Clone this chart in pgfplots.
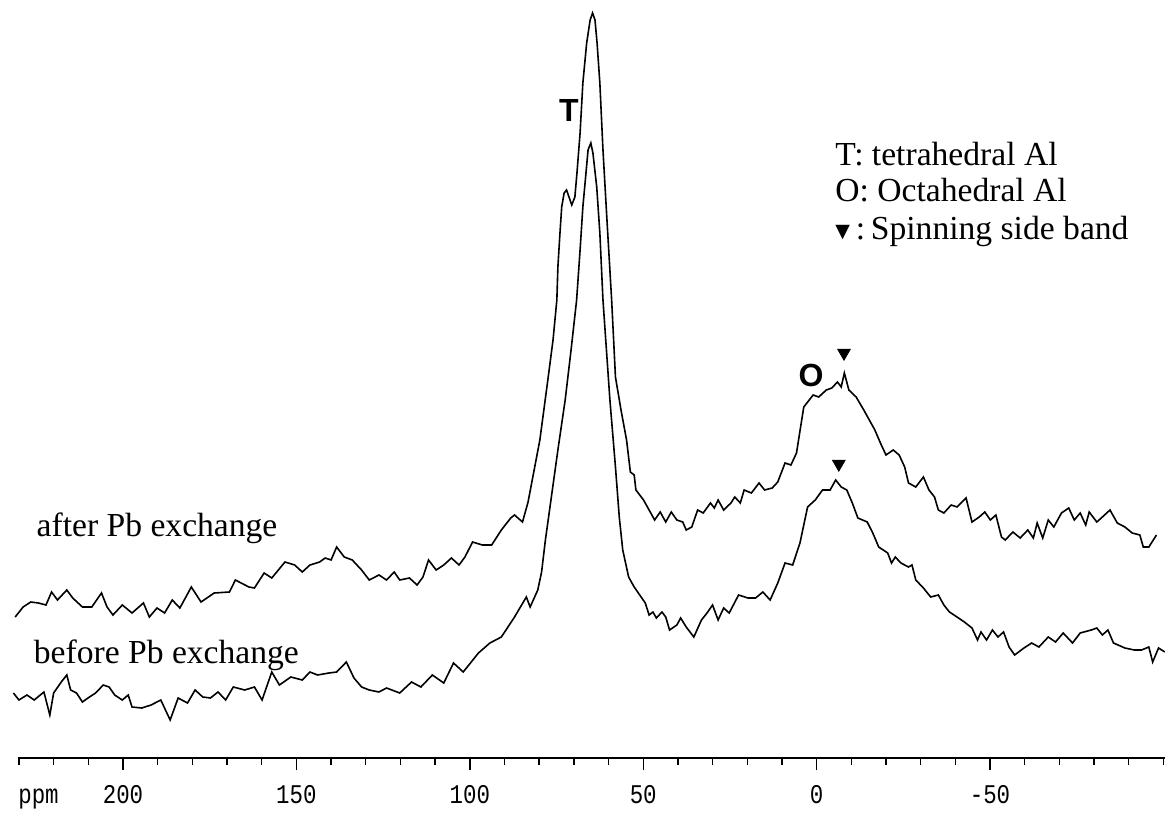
\documentclass[border=0pt]{standalone}
\usepackage{pgfplots}
\pgfplotsset{compat=1.18}
\usepackage{fontspec}
\setmainfont{Liberation Serif}
\newfontfamily\tickfont[FakeStretch=0.83]{Liberation Mono}
\newfontfamily\labfont{Liberation Sans}
\newfontfamily\symfont{DejaVu Sans}
\begin{document}
\begin{tikzpicture}
\begin{axis}[
  scale only axis,
  width=573.5pt, height=379pt,
  x dir=reverse,
  xmin=-100.46, xmax=230.28,
  ymin=0, ymax=758,
  hide y axis,
  axis x line*=bottom,
  x axis line style={-, line width=1.1pt},
  tick align=outside,
  xtick={200,150,100,50,0,-50},
  minor xtick={230,220,210,190,180,170,160,140,130,120,110,90,80,70,60,40,30,20,10,-10,-20,-30,-40,-60,-70,-80,-90,-100},
  major tick length=6pt,
  minor tick length=3.5pt,
  every tick/.style={black, line width=0.7pt},
  xticklabel style={font=\tickfont\fontsize{13.5}{13.5}\selectfont, anchor=base, yshift=-16.5pt, inner sep=0pt},
  /pgf/number format/assume math mode=true,
  clip=false,
]
% after Pb exchange
\addplot[black, line width=0.8pt] coordinates {
(231.1,141) (228.8,151) (226.6,156) (224.4,155) (222.2,153) (220.6,166) (218.9,158) (216.2,168)
(214.5,160) (211.7,151) (209.0,151) (206.2,165) (204.6,151) (202.9,143) (200.2,153) (197.4,145)
(194.1,155) (192.4,141) (190.2,150) (188.0,145) (185.8,158) (183.6,150) (180.3,171) (177.5,156)
(173.7,165) (169.3,166) (167.6,178) (163.7,171) (162.1,170) (159.3,185) (157.1,180) (153.3,196)
(150.5,193) (148.3,186) (146.1,193) (143.3,196) (141.7,200) (140.0,198) (138.4,211) (136.2,201)
(133.9,198) (131.2,188) (129.0,178) (126.2,183) (124.0,178) (121.8,186) (120.2,178) (117.4,180)
(115.2,173) (113.5,181) (111.9,198) (109.7,188) (107.5,193) (105.3,200) (103.1,193) (101.4,201)
(99.2,216) (96.4,213) (93.7,213) (90.9,228) (88.2,240) (87.1,243) (84.8,236) (83.2,256)
(79.8,318) (77.5,378) (76.0,418) (74.9,458) (74.6,491) (74.0,525) (73.5,551) (72.8,565)
(72.1,568) (71.4,561) (70.6,553) (69.7,561) (69.1,585) (68.2,625) (67.4,675) (66.3,715)
(65.3,738) (64.6,745) (63.9,738) (63.3,715) (62.5,675) (61.6,608) (60.5,541) (59.1,458)
(58.0,381) (56.4,348) (54.8,318) (53.7,286) (52.6,283) (52.1,268) (49.9,258) (48.3,248)
(46.7,238) (45.1,246) (43.5,236) (41.9,246) (40.3,238) (38.6,236) (37.6,228) (36.0,231)
(34.3,248) (32.7,245) (30.6,255) (29.5,250) (28.4,258) (26.8,248) (24.7,255) (23.6,261)
(22.0,255) (20.9,268) (18.8,265) (16.6,275) (15.0,268) (12.8,270) (11.2,276) (9.1,295)
(7.4,293) (5.8,305) (3.7,351) (1.0,363) (-0.6,361) (-2.8,368) (-4.4,370) (-6.0,376)
(-7.1,371) (-8.0,385) (-9.3,368) (-11.4,361) (-13.6,348) (-15.2,338) (-16.8,328) (-18.4,315)
(-20.0,303) (-22.1,308) (-23.8,303) (-25.4,291) (-26.5,275) (-28.6,271) (-30.8,281) (-32.4,268)
(-34.0,261) (-35.1,248) (-36.7,245) (-38.8,253) (-40.5,251) (-43.1,260) (-44.8,236) (-46.9,241)
(-48.5,246) (-50.1,238) (-51.7,243) (-53.3,221) (-54.4,218) (-56.6,226) (-58.7,220) (-60.9,228)
(-62.5,220) (-63.6,235) (-65.2,220) (-66.8,238) (-68.4,231) (-70.6,245) (-72.7,250) (-74.3,238)
(-76.0,245) (-77.6,233) (-78.6,246) (-80.8,236) (-82.4,241) (-84.6,248) (-86.7,235) (-88.9,231)
(-91.0,225) (-93.2,223) (-94.2,211) (-95.8,211) (-98.0,223)
};
% before Pb exchange
\addplot[black, line width=0.8pt] coordinates {
(231.6,65) (230.0,58) (227.7,63) (225.6,58) (222.8,66) (221.1,43) (220.0,65) (217.8,76)
(216.2,83) (215.1,68) (213.4,65) (211.7,56) (210.1,60) (207.9,65) (205.7,73) (204.0,71)
(202.4,63) (200.2,58) (198.5,63) (197.4,51) (194.6,50) (191.9,53) (189.1,58) (186.4,38)
(184.1,60) (181.4,55) (179.2,68) (177.0,61) (174.8,60) (172.6,66) (170.4,58) (168.2,71)
(164.9,68) (162.1,71) (159.9,58) (157.1,86) (154.9,73) (151.6,81) (148.3,78) (146.1,86)
(143.9,83) (140.6,85) (138.4,86) (135.6,96) (133.4,80) (131.2,71) (129.0,68) (126.2,66)
(124.0,70) (120.2,65) (116.8,76) (114.1,71) (110.8,83) (107.5,75) (104.7,95) (101.9,86)
(97.5,105) (94.2,115) (90.9,121) (87.1,141) (83.7,161) (82.6,151) (80.4,168) (79.3,186)
(78.2,218) (76.6,258) (74.6,308) (72.5,358) (70.8,408) (69.2,458) (68.2,508) (67.4,551)
(66.5,585) (65.9,608) (65.1,615) (64.5,605) (63.4,571) (62.5,525) (61.6,458) (59.6,358)
(58.0,291) (56.9,241) (55.9,208) (54.2,181) (52.6,171) (51.0,163) (49.4,155) (48.3,143)
(47.2,146) (46.2,140) (44.6,146) (43.5,141) (42.4,128) (40.3,133) (39.2,140) (37.6,131)
(35.4,121) (33.2,138) (31.6,145) (30.0,153) (28.4,138) (26.8,150) (25.2,145) (22.5,163)
(19.8,160) (17.6,160) (15.5,166) (13.4,158) (11.2,175) (9.1,195) (6.9,193) (4.8,215)
(2.6,251) (0.4,258) (-1.7,268) (-3.9,268) (-5.5,278) (-7.1,271) (-8.7,268) (-10.3,255)
(-11.9,240) (-14.6,236) (-16.2,225) (-17.9,211) (-20.5,205) (-21.6,195) (-22.7,201) (-24.3,195)
(-26.5,191) (-27.5,193) (-28.6,178) (-30.8,170) (-32.9,161) (-35.1,163) (-36.7,153) (-38.3,146)
(-40.5,141) (-42.6,136) (-44.8,130) (-46.4,118) (-47.4,126) (-49.0,118) (-50.7,128) (-52.3,121)
(-53.9,126) (-55.5,111) (-57.1,103) (-59.8,110) (-62.0,115) (-64.1,111) (-66.8,121) (-68.9,116)
(-71.1,125) (-73.8,115) (-76.0,125) (-79.2,128) (-80.8,130) (-82.4,123) (-84.0,128) (-85.6,115)
(-88.9,110) (-91.6,108) (-93.7,108) (-95.8,111) (-96.9,96) (-98.6,110) (-100.4,106)
};
% spinning side band markers
\addplot[only marks, mark=triangle*, mark size=3.6pt, mark options={rotate=180, fill=black, draw=black}] coordinates {(-7.9,405) (-6.4,294)};

\node[font=\labfont\bfseries\fontsize{16}{16}\selectfont, inner sep=0pt] at (axis cs:71.4,648) {T};
\node[font=\labfont\bfseries\fontsize{16}{16}\selectfont, inner sep=0pt] at (axis cs:1.6,383) {O};

\node[anchor=base west, inner sep=0pt, font=\fontsize{16.8}{18.5}\selectfont] at (axis cs:225.0,221) {after Pb exchange};
\node[anchor=base west, inner sep=0pt, font=\fontsize{16.8}{18.5}\selectfont] at (axis cs:225.8,95) {before Pb exchange};

\node[anchor=base west, inner sep=0pt, font=\fontsize{16.8}{18.5}\selectfont] at (axis cs:-5.3,592) {T: tetrahedral Al};
\node[anchor=base west, inner sep=0pt, font=\fontsize{16.8}{18.5}\selectfont] at (axis cs:-5.3,556) {O: Octahedral Al};
\node[anchor=base west, inner sep=0pt, font=\fontsize{16.8}{18.5}\selectfont] at (axis cs:-5.3,518) {\makebox[10.3pt][l]{\raisebox{1.2pt}{\symfont\fontsize{9.5}{9.5}\selectfont ▼}}:\,Spinning side band};

\node[anchor=base west, inner sep=0pt, font=\tickfont\fontsize{13.5}{13.5}\selectfont] at (axis cs:230.3,-45.3) {ppm};

\coordinate (bbSW) at (axis cs:235.47,-55);
\coordinate (bbNE) at (axis cs:-100.46,758);
\end{axis}
\pgfresetboundingbox
\path[use as bounding box] (bbSW) rectangle (bbNE);
\end{tikzpicture}
\end{document}
